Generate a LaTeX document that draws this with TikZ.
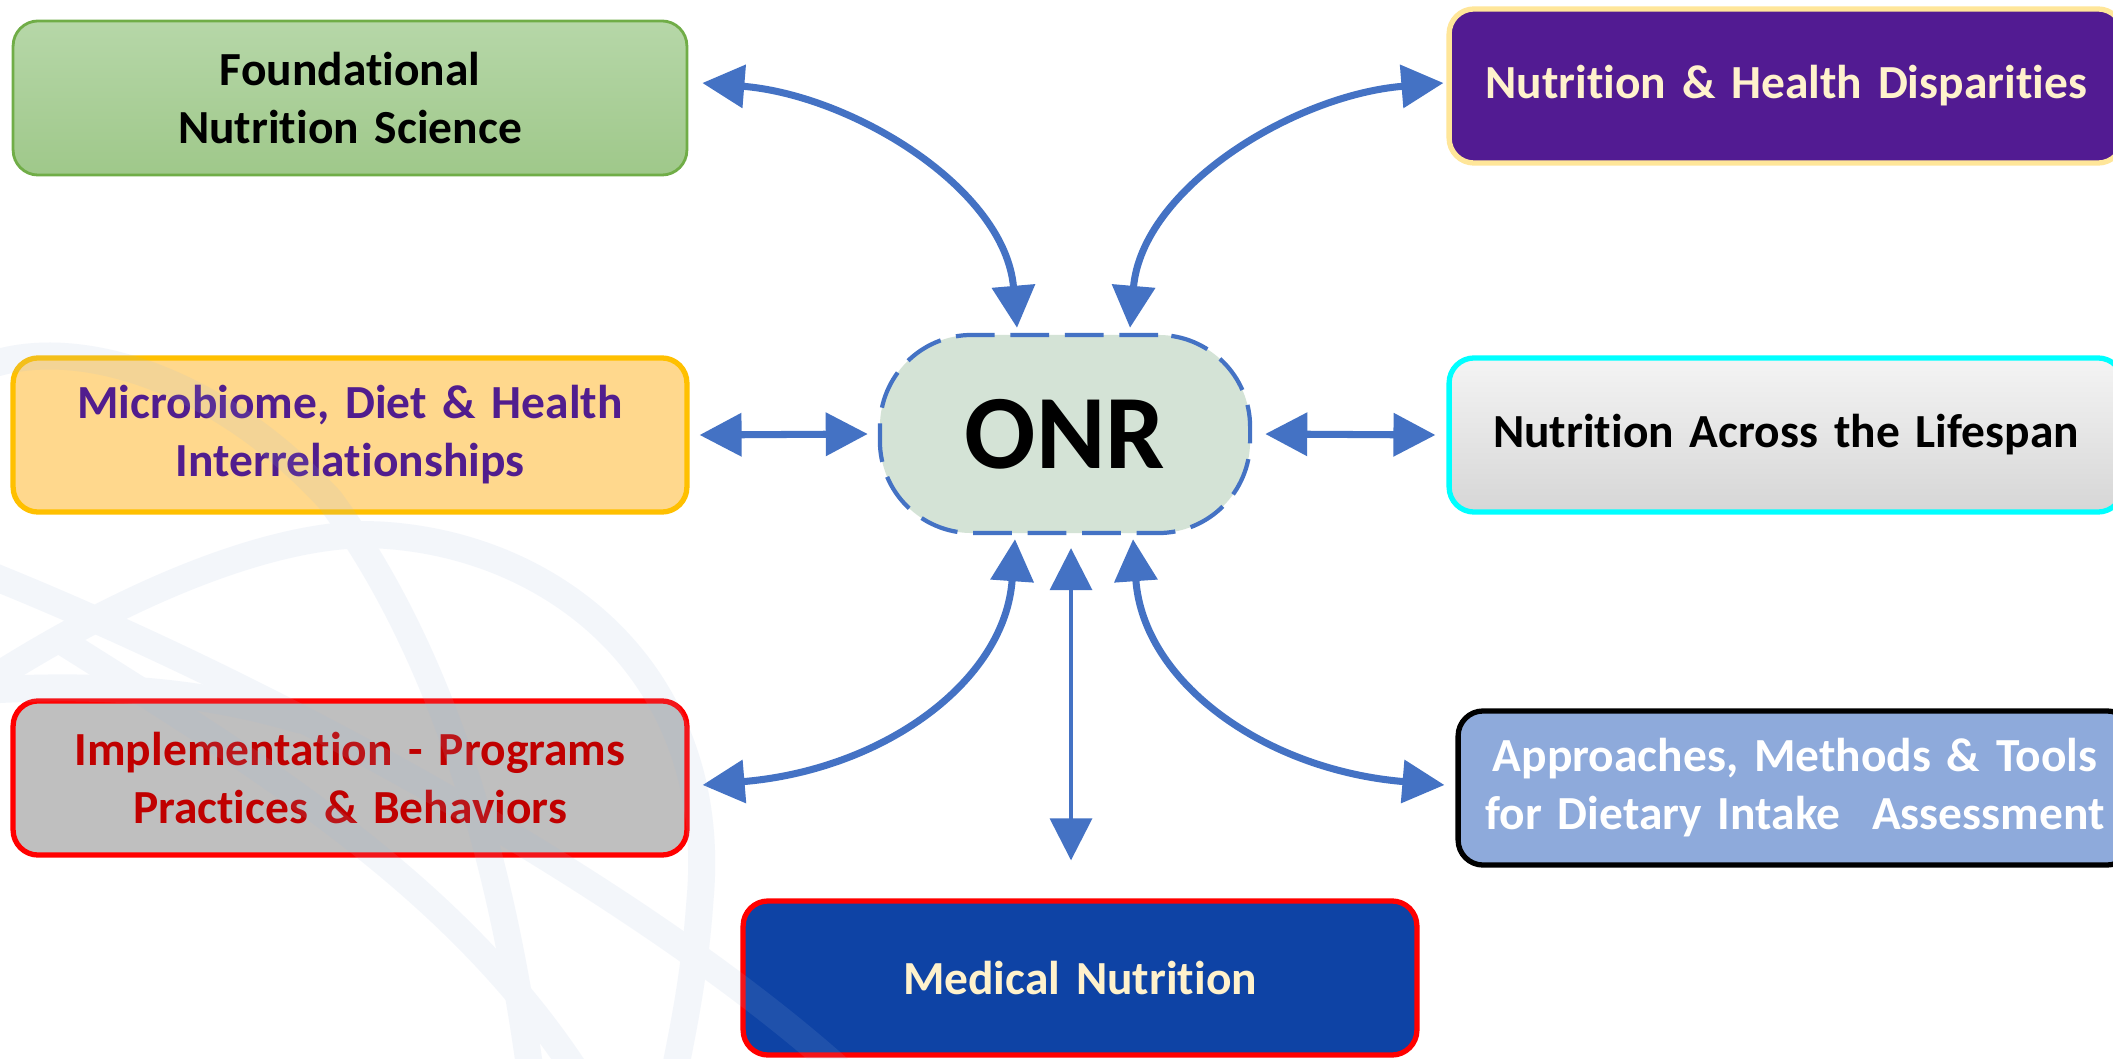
\documentclass[tikz,border=0pt]{standalone}
\usepackage{fontspec}
\setmainfont{Carlito}[RawFeature={-liga;-clig;-calt;-dlig}]
\usetikzlibrary{arrows.meta}

\definecolor{linkBlue}{HTML}{4472C4}
\definecolor{onrFill}{HTML}{D4E3D6}
\definecolor{foundTop}{HTML}{B6D7A8}
\definecolor{foundBot}{HTML}{9FC88A}
\definecolor{foundLine}{HTML}{70AD47}
\definecolor{microFill}{HTML}{FFD88D}
\definecolor{microLine}{HTML}{FFC000}
\definecolor{microText}{HTML}{511D8E}
\definecolor{implFill}{HTML}{BFBFBF}
\definecolor{implLine}{HTML}{FF0000}
\definecolor{implText}{HTML}{C00000}
\definecolor{medFill}{HTML}{0E43A5}
\definecolor{creamText}{HTML}{FFF2CC}
\definecolor{dispFill}{HTML}{521B92}
\definecolor{dispLine}{HTML}{FFE699}
\definecolor{lifeTop}{HTML}{F4F4F4}
\definecolor{lifeBot}{HTML}{D6D6D6}
\definecolor{lifeLine}{HTML}{00FFFF}
\definecolor{apprFill}{HTML}{8EAADB}
\definecolor{markBlue}{HTML}{9DB8DE}

\tikzset{
  topic/.style={rectangle, rounded corners=0.25cm, line width=1.5pt,
    minimum width=6.73cm, minimum height=1.54cm, text width=6.5cm,
    align=center, font=\fontsize{13.5}{16.5}\selectfont\bfseries},
  link/.style={draw=linkBlue, line width=2pt,
    {Triangle[length=4.2mm,width=4.2mm]}-{Triangle[length=4.2mm,width=4.2mm]}},
  band/.style={line width=0.27cm, markBlue, line cap=round}
}

\begin{document}
\begin{tikzpicture}[x=0.01cm,y=-0.01cm]
    \useasboundingbox (0,0) rectangle (2113,1058);
    \clip (0,0) rectangle (2113,1058);
    \fill[white] (0,0) rectangle (2113,1058);

    % boxes round the hub
    \node[topic, draw=foundLine, line width=0.8pt, top color=foundTop,
        bottom color=foundBot] (found) at (350,98)
        {Foundational\\Nutrition Science};
    \node[topic, draw=microLine, fill=microFill, text=microText] (micro)
        at (350,435) {Microbiome, Diet \& Health\\Interrelationships};
    \node[topic, draw=implLine, fill=implFill, text=implText] (impl)
        at (350,778) {Implementation - Programs\\Practices \& Behaviors};
    \node[topic, draw=implLine, fill=medFill, text=creamText] (med)
        at (1080,978) {Medical Nutrition};
    \node[topic, draw=dispLine, fill=dispFill, text=creamText] (disp)
        at (1786,86) {Nutrition \& Health Disparities};
    \node[topic, draw=lifeLine, top color=lifeTop, bottom color=lifeBot] (life)
        at (1786,435) {Nutrition Across the Lifespan};
    \node[topic, draw=black, fill=apprFill, text=white] (appr)
        at (1795,788) {Approaches, Methods \& Tools\\for Dietary Intake\ \ Assessment};

    \node[draw=linkBlue, line width=1.2pt, dash pattern=on 11pt off 4.5pt,
        fill=onrFill, rounded corners=0.92cm, minimum width=3.7cm,
        minimum height=1.98cm, font=\fontsize{30}{36}\selectfont\bfseries]
        (onr) at (1065,434) {ONR};

    % links
    \draw[link] ([shift={(14,-15)}]found.east)
        .. controls +(149,12) and +(-12,-140) .. ([shift={(-48,-5)}]onr.north);
    \draw[link] ([shift={(65,-5)}]onr.north)
        .. controls +(12,-140) and +(-149,12) .. ([shift={(-3,-3)}]disp.west);
    \draw[link] ([shift={(10,0)}]micro.east) -- ([shift={(-10,0)}]onr.west);
    \draw[link] ([shift={(13,0)}]onr.east) -- ([shift={(-11,0)}]life.west);
    \draw[link] ([shift={(-50,4)}]onr.south)
        .. controls +(-10,143) and +(180,-15) .. ([shift={(13,7)}]impl.east);
    \draw[link, line width=1pt] ([shift={(6,13)}]onr.south)
        -- ([shift={(-9,-38)}]med.north);
    \draw[link] ([shift={(68,4)}]onr.south)
        .. controls +(10,143) and +(-180,-15) .. ([shift={(-11,-3)}]appr.west);

    % faint logo in the back
    \begin{scope}[transparency group, opacity=0.12]
      \draw[band] (0,674) .. controls (150,580) and (290,530) .. (380,535)
          .. controls (560,545) and (720,680) .. (700,900)
          .. controls (695,970) and (685,1020) .. (675,1070);
      \draw[band] (-10,365) .. controls (80,335) and (220,380) .. (330,500)
          .. controls (440,650) and (500,850) .. (530,1070);
      \draw[band] (-10,575) .. controls (300,700) and (650,900) .. (840,1070);
      \draw[band] (60,640) .. controls (250,760) and (450,880) .. (575,1070);
      \draw[band] (-10,690) .. controls (100,684) and (200,690) .. (300,720);
    \end{scope}
\end{tikzpicture}
\end{document}
